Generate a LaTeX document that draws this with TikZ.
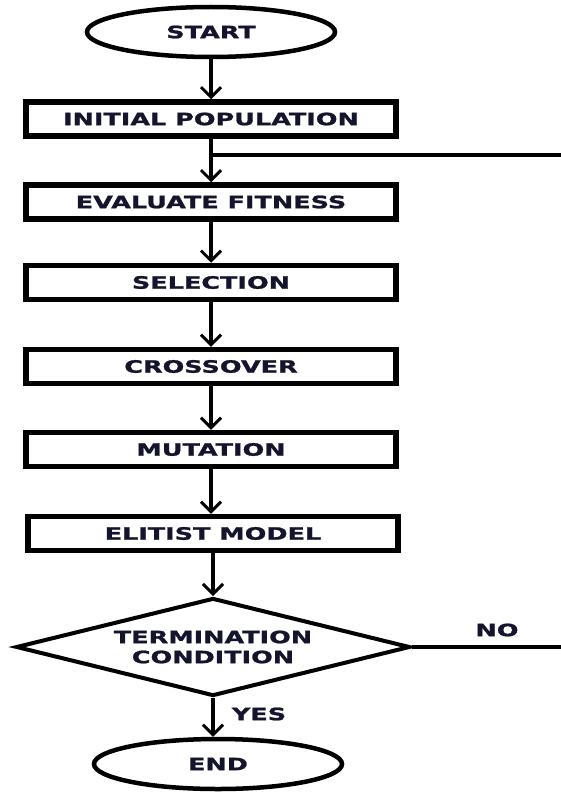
\documentclass[tikz,border=0pt]{standalone}
\usepackage{fontspec}
\newfontfamily\dfont{DejaVu Sans Bold}[FakeStretch=1.5,FakeBold=1.3]
\usetikzlibrary{shapes.geometric,arrows.meta}
\definecolor{txt}{RGB}{20,20,45}
\tikzset{
  lbl/.style={text=txt,font=\fontsize{17}{20}\dfont,align=center},
  stepbox/.style={draw,line width=5.5pt,minimum width=370pt,minimum height=34pt,inner sep=0pt,lbl},
  term/.style={draw,ellipse,line width=4.5pt,minimum width=248pt,minimum height=50pt,inner sep=0pt,lbl},
  decide/.style={draw,diamond,shape aspect=4,line width=4pt,minimum width=394pt,minimum height=98pt,inner sep=0pt,lbl},
  arr/.style={line width=3.5pt,-{Straight Barb[length=10pt,width=20pt,line width=3pt]}},
  ln/.style={line width=4pt}
}
\begin{document}
\begin{tikzpicture}[x=1pt,y=-1pt]
\useasboundingbox (0,0) rectangle (561,792);
\node[term] (start) at (211,32) {START};
\node[stepbox] (init) at (211,119) {INITIAL POPULATION};
\node[stepbox] (eval) at (211,202) {EVALUATE FITNESS};
\node[stepbox] (sel) at (211,282.5) {SELECTION};
\node[stepbox] (cross) at (211,366.5) {CROSSOVER};
\node[stepbox] (mut) at (211,449.5) {MUTATION};
\node[stepbox] (elit) at (213,533.5) {ELITIST MODEL};
\node[decide] (cond) at (213,647) {TERMINATION\\CONDITION};
\node[term] (end) at (218,764) {END};
\coordinate (loopR) at (561,155);
\coordinate (noR) at (561,647);
\node[lbl] (no) at (497,630) {NO};
\node[lbl] (yes) at (259,714) {YES};
\draw[arr] (start.south) -- (init.north);
\draw[arr] (init.south) -- (eval.north);
\draw[ln] (init.south |- loopR) -- (loopR);
\draw[arr] (eval.south) -- (sel.north);
\draw[arr] (sel.south) -- (cross.north);
\draw[arr] (cross.south) -- (mut.north);
\draw[arr] (mut.south) -- (mut.south |- elit.north);
\draw[arr] (elit.south) -- (cond.north);
\draw[ln] (cond.east) -- (noR);
\draw[arr] (cond.south) -- (cond.south |- end.north);
\end{tikzpicture}
\end{document}
